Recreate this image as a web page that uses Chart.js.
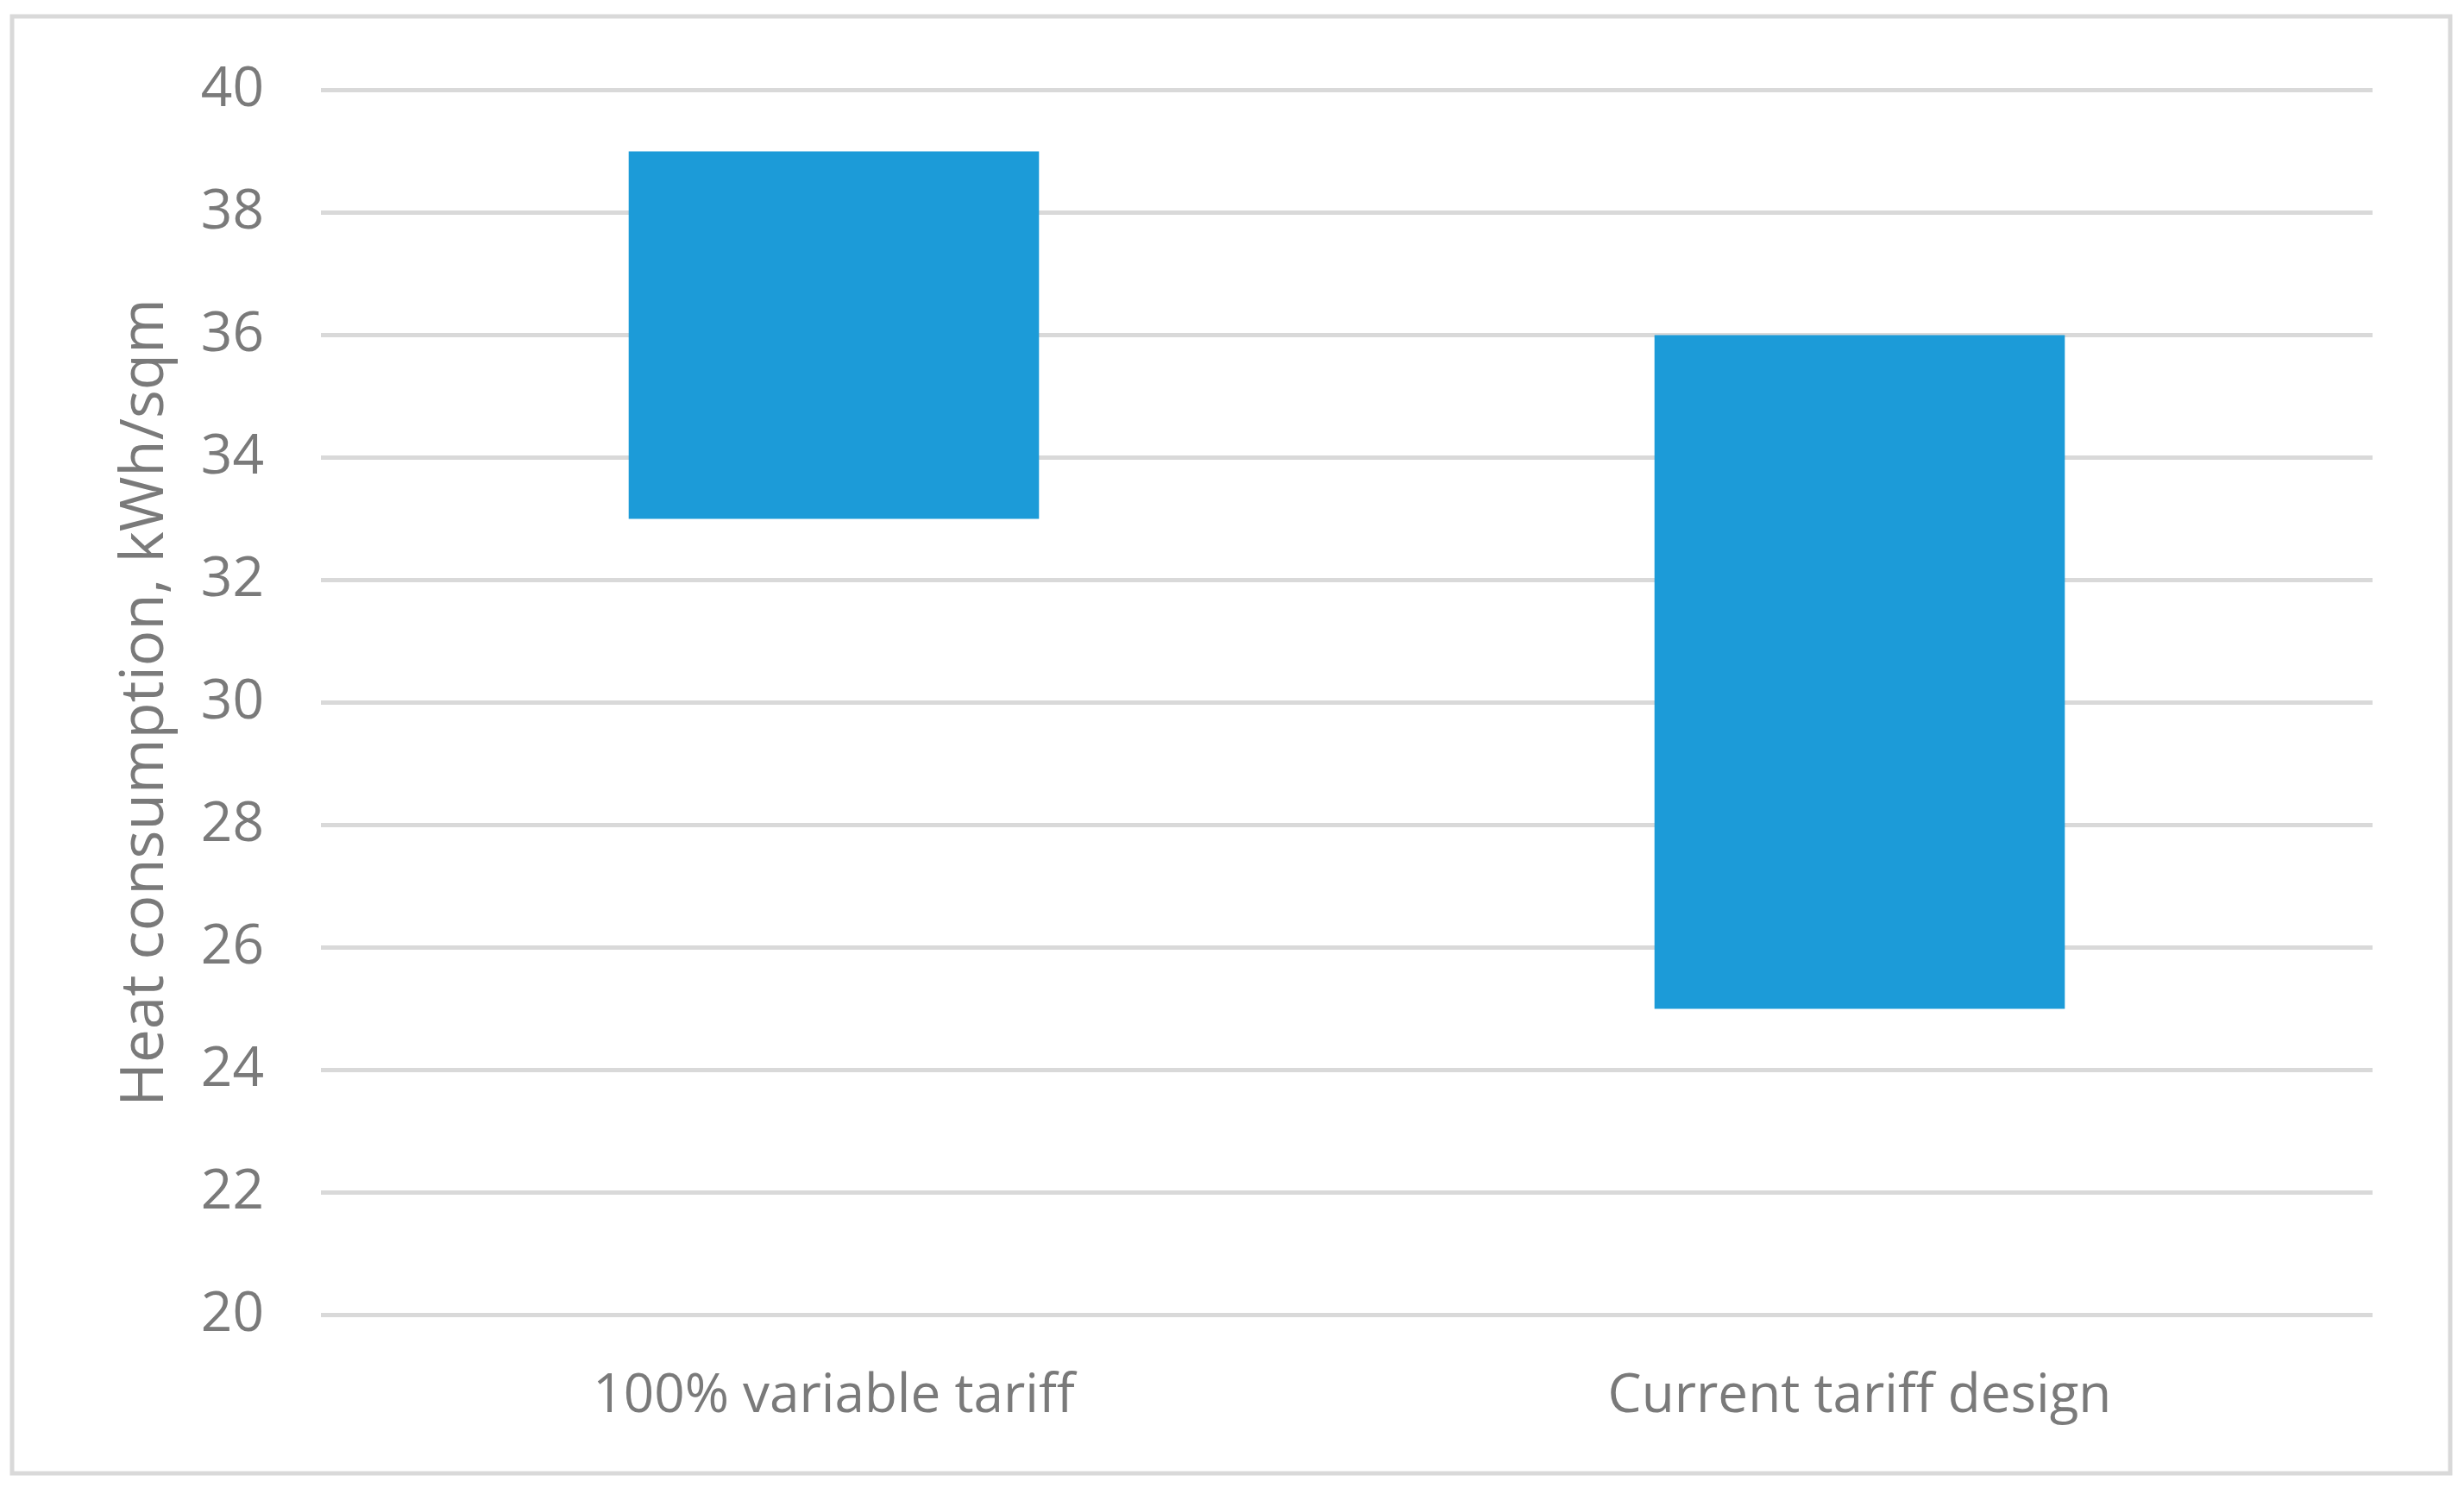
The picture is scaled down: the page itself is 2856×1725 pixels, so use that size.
<!DOCTYPE html>
<html>
<head>
<meta charset="utf-8">
<script src="https://cdn.jsdelivr.net/npm/chart.js@4.4.0/dist/chart.umd.min.js"></script>
<style>
  html, body { margin: 0; padding: 0; background: #fff; }
  canvas { display: block; }
</style>
</head>
<body>
<canvas id="chart1" width="2856" height="1725" style="width:2856px;height:1725px"></canvas>
<script>
var categories = ['100% variable tariff', 'Current tariff design'];
var lowValues = [33, 25];
var highValues = [39, 36];
var yTicks = [20, 22, 24, 26, 28, 30, 32, 34, 36, 38, 40];

var textColor = '#7a7a7a';
var gridColor = '#d9d9d9';

var floatData = categories.map(function (c, i) {
    return [lowValues[i], highValues[i]];
});

// outer frame around the whole chart
var framePlugin = {
    id: 'frame',
    beforeDraw: function (chart) {
        var ctx = chart.ctx;
        ctx.save();
        ctx.fillStyle = '#fff';
        ctx.fillRect(0, 0, chart.width, chart.height);
        ctx.strokeStyle = gridColor;
        ctx.lineWidth = 5;
        ctx.strokeRect(14, 19, 2826, 1689);
        ctx.restore();
    }
};

var ctx = document.getElementById('chart1').getContext('2d');
var chart = new Chart(ctx, {
    type: 'bar',
    data: {
        labels: categories,
        datasets: [{
            label: 'Heat consumption',
            data: floatData,
            backgroundColor: '#1c9bd8',
            borderWidth: 0,
            barPercentage: 0.4,
            categoryPercentage: 1.0
        }]
    },
    options: {
        responsive: false,
        maintainAspectRatio: false,
        animation: false,
        devicePixelRatio: 1,
        layout: { padding: { left: 0, right: 106, top: 100, bottom: 0 } },
        plugins: {
            legend: { display: false },
            tooltip: { enabled: false }
        },
        scales: {
            x: {
                grid: { display: false, drawTicks: false },
                border: { display: false },
                ticks: {
                    color: textColor,
                    font: { family: 'Open Sans', size: 62 },
                    padding: 58
                },
                afterFit: function (scale) { scale.height = 200.5; }
            },
            y: {
                min: 20,
                max: 40,
                afterBuildTicks: function (scale) {
                    scale.ticks = yTicks.map(function (v) { return { value: v }; });
                },
                grid: { color: gridColor, lineWidth: 5, drawTicks: false },
                border: { display: false },
                ticks: {
                    color: textColor,
                    font: { family: 'Open Sans', size: 64 },
                    padding: 66
                },
                title: {
                    display: true,
                    text: 'Heat consumption, kWh/sqm',
                    color: textColor,
                    font: { family: 'Open Sans', size: 69 },
                    padding: { top: 128, bottom: 0 }
                },
                afterFit: function (scale) { scale.width = 372; }
            }
        }
    },
    plugins: [framePlugin]
});
</script>
</body>
</html>
